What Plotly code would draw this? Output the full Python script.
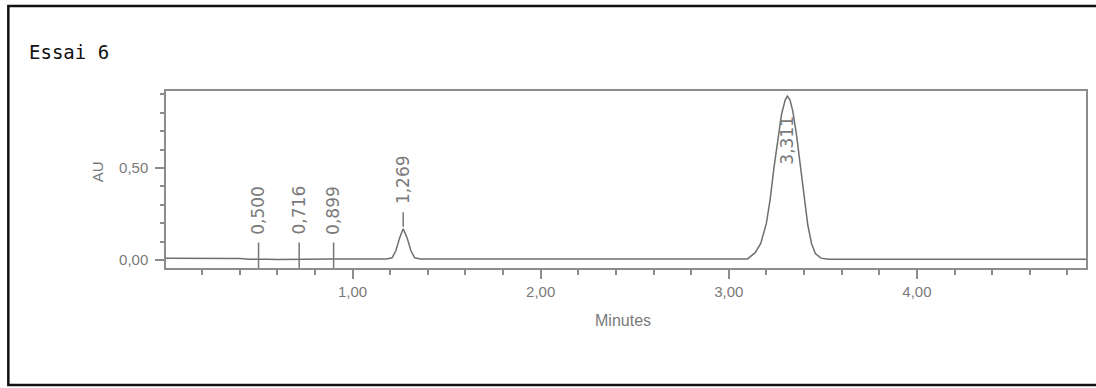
import plotly.graph_objects as go

# ---------------- data ----------------
time_min = [0.00, 0.10, 0.20, 0.30, 0.40, 0.45, 0.50, 0.55, 0.60, 0.716, 0.80, 0.899,
            1.00, 1.10, 1.18, 1.21, 1.23, 1.25, 1.269, 1.29, 1.31, 1.33, 1.36,
            1.50, 1.65, 1.80, 2.00, 2.50, 2.90, 3.00, 3.05, 3.10, 3.14, 3.17,
            3.20, 3.22, 3.24, 3.26, 3.28, 3.30, 3.311, 3.325, 3.34, 3.36, 3.38,
            3.40, 3.42, 3.44, 3.46, 3.49, 3.53, 3.70, 4.00, 4.50, 4.90]
au = [0.010, 0.010, 0.010, 0.010, 0.008, 0.004, 0.006, 0.004, 0.003, 0.005, 0.003, 0.005,
      0.005, 0.006, 0.006, 0.012, 0.050, 0.120, 0.170, 0.120, 0.050, 0.012, 0.006,
      0.006, 0.008, 0.006, 0.005, 0.005, 0.005, 0.004, 0.004, 0.006, 0.040, 0.090,
      0.200, 0.330, 0.500, 0.660, 0.790, 0.870, 0.890, 0.870, 0.810, 0.680, 0.510,
      0.340, 0.190, 0.090, 0.035, 0.010, 0.004, 0.004, 0.004, 0.004, 0.004]

peak_rt = [0.500, 0.716, 0.899, 1.269, 3.311]
peak_height = [0.005, 0.005, 0.005, 0.170, 0.890]
peak_labels = ["0,500", "0,716", "0,899", "1,269", "3,311"]

x_ticks = [1, 2, 3, 4]
y_ticks = [0.0, 0.5]

title_text = "Essai 6"
x_title = "Minutes"
y_title = "AU"

# ---------------- layout geometry ----------------
W, H = 1096, 388
L, R, T, B = 166, 1088, 91, 268       # plot area in pixels
x_range = [0.008, 4.899]
y_range = [-0.0435, 0.918]


def px(xp):
    return (xp - L) / (R - L)


def py(yp):
    return (B - yp) / (B - T)


GREY = "#8c8c8c"
TXT = "#7a7a7a"

fig = go.Figure()
fig.add_trace(go.Scatter(x=time_min, y=au, mode="lines",
                         line=dict(color="#6f6f6f", width=1.5),
                         hoverinfo="skip", showlegend=False))

shapes = []
annotations = []
for rt, h, lab in zip(peak_rt, peak_height, peak_labels):
    if h + 0.30 < y_range[1]:
        y0 = y_range[0] if h < 0.05 else h + 0.01
        shapes.append(dict(type="line", xref="x", yref="y", x0=rt, x1=rt,
                           y0=y0, y1=h + 0.09, line=dict(color="#777777", width=1.5)))
        ly = h + 0.265
    else:
        ly = h - 0.24
    annotations.append(dict(x=rt, y=ly, xref="x", yref="y", text=lab, textangle=-90,
                            showarrow=False, xanchor="center", yanchor="middle",
                            font=dict(family="DejaVu Sans", size=17, color=TXT)))

# outer frame (left, top, bottom black border)
shapes.append(dict(type="rect", xref="paper", yref="paper",
                   x0=px(8), x1=px(1110), y0=py(385), y1=py(6),
                   line=dict(color="#111111", width=2.5)))

annotations.append(dict(x=px(27), y=py(52), xref="paper", yref="paper", text=title_text,
                        showarrow=False, xanchor="left", yanchor="middle",
                        font=dict(family="DejaVu Sans Mono", size=19, color="#111111")))
annotations.append(dict(x=px(97), y=py(172), xref="paper", yref="paper", text=y_title,
                        showarrow=False, textangle=-90, xanchor="center", yanchor="middle",
                        font=dict(family="Liberation Sans", size=15, color=TXT)))
annotations.append(dict(x=px(624), y=py(320), xref="paper", yref="paper", text=x_title,
                        showarrow=False, xanchor="center", yanchor="middle",
                        font=dict(family="Liberation Sans Narrow, Liberation Sans", size=16, color=TXT)))

fig.update_layout(
    width=W, height=H,
    margin=dict(l=L, r=W - R, t=T, b=H - B, pad=0),
    paper_bgcolor="white", plot_bgcolor="white",
    separators=",.",
    showlegend=False,
    shapes=shapes, annotations=annotations,
    xaxis=dict(range=x_range, tickvals=x_ticks, tickformat=".2f",
               showgrid=False, zeroline=False, showline=True, mirror=True,
               linecolor=GREY, linewidth=1.5,
               ticks="outside", ticklen=9, tickwidth=1.5, tickcolor=GREY,
               ticklabelstandoff=0,
               minor=dict(dtick=0.2, tick0=0, ticks="outside", ticklen=5,
                          tickwidth=1.5, tickcolor=GREY, showgrid=False),
               tickfont=dict(family="Liberation Sans", size=15, color=TXT)),
    yaxis=dict(range=y_range, tickvals=y_ticks, tickformat=".2f",
               showgrid=False, zeroline=False, showline=True, mirror=True,
               linecolor=GREY, linewidth=1.5,
               ticks="outside", ticklen=9, tickwidth=1.5, tickcolor=GREY,
               ticklabelstandoff=4,
               minor=dict(dtick=0.1, tick0=0, ticks="outside", ticklen=4,
                          tickwidth=1.5, tickcolor=GREY, showgrid=False),
               tickfont=dict(family="Liberation Sans", size=15, color=TXT)),
)

fig.write_html("out.html")
